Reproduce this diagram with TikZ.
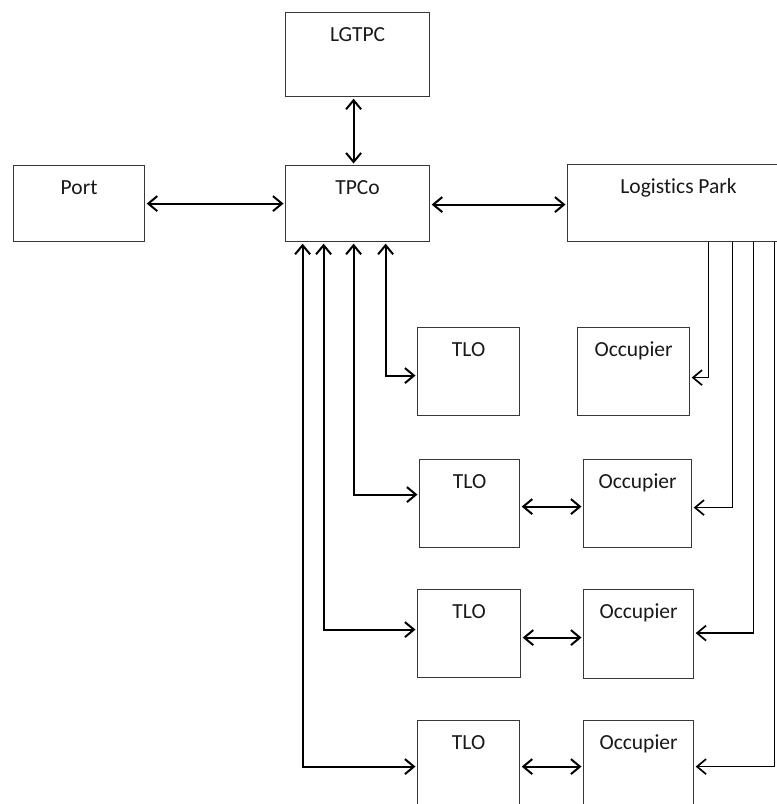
\documentclass[tikz,border=0pt]{standalone}
\usepackage{fontspec}
\setmainfont[Ligatures=CommonOff]{Carlito}
\usetikzlibrary{arrows.meta,calc}
\begin{document}
\begin{tikzpicture}[x=1pt,y=-1pt,
  box/.style={draw=black!78, line width=1.2pt, anchor=north west, inner sep=0pt, fill=white},
  lbl/.style={anchor=base, yshift=-29pt, inner sep=0pt, font=\fontsize{21.5}{26}\selectfont, text=black!90},
  arr/.style={{Straight Barb[length=9pt,width=15pt]}-{Straight Barb[length=9pt,width=15pt]}, line width=2pt, shorten <=1.5pt, shorten >=1.5pt},
  one/.style={-{Straight Barb[length=9pt,width=15pt]}, line width=1.7pt, shorten >=1.5pt}]
\useasboundingbox (0,0) rectangle (777,804);
% boxes
\node[box, minimum width=144pt, minimum height=84pt, label={[lbl]north:LGTPC}] (lgtpc) at (285,12) {};
\node[box, minimum width=144pt, minimum height=76pt, label={[lbl]north:TPCo}] (tpco) at (285,165) {};
\node[box, minimum width=131pt, minimum height=76pt, label={[lbl]north:Port}] (port) at (13,165) {};
\node[box, minimum width=222pt, minimum height=77pt, label={[lbl]north:Logistics Park}] (lp) at (567,164) {};
\node[box, minimum width=102pt, minimum height=88pt, label={[lbl]north:TLO}] (tlo1) at (417,327) {};
\node[box, minimum width=112pt, minimum height=88pt, label={[lbl]north:Occupier}] (occ1) at (577,327) {};
\node[box, minimum width=100pt, minimum height=88pt, label={[lbl]north:TLO}] (tlo2) at (419,459) {};
\node[box, minimum width=108pt, minimum height=88pt, label={[lbl]north:Occupier}] (occ2) at (583,459) {};
\node[box, minimum width=103pt, minimum height=88pt, label={[lbl]north:TLO}] (tlo3) at (417,589) {};
\node[box, minimum width=110pt, minimum height=89pt, label={[lbl]north:Occupier}] (occ3) at (583,589) {};
\node[box, minimum width=102pt, minimum height=90pt, label={[lbl]north:TLO}] (tlo4) at (417,720) {};
\node[box, minimum width=110pt, minimum height=90pt, label={[lbl]north:Occupier}] (occ4) at (583,720) {};
% top connectors
\draw[arr] ([xshift=-4pt]lgtpc.south) -- ([xshift=-4pt]tpco.north);
\draw[arr] (port.east) -- (port.east -| tpco.west);
\draw[arr] ([yshift=-1pt]tpco.east) -- ([yshift=-1pt]tpco.east -| lp.west);
% TPCo to TLOs
\draw[arr] ([xshift=28pt]tpco.south) |- ([yshift=-4pt]tlo1.west);
\draw[arr] ([xshift=-4pt]tpco.south) |- ([yshift=9pt]tlo2.west);
\draw[arr] ([xshift=-34pt]tpco.south) |- ([yshift=4pt]tlo3.west);
\draw[arr] ([xshift=-55pt]tpco.south) |- ([yshift=-1pt]tlo4.west);
% Logistics Park to Occupiers
\draw[one] ([xshift=30pt]lp.south) |- ([yshift=-6pt]occ1.east);
\draw[one] ([xshift=54pt]lp.south) |- ([yshift=-4pt]occ2.east);
\draw[one] ([xshift=75pt]lp.south) |- ([yshift=1pt]occ3.east);
\draw[one] ([xshift=96pt]lp.south) |- ([yshift=-1pt]occ4.east);
% TLO to Occupier
\draw[arr] ([yshift=-3pt]tlo2.east) -- ([yshift=-3pt]tlo2.east -| occ2.west);
\draw[arr] ([yshift=-4pt]tlo3.east) -- ([yshift=-4pt]tlo3.east -| occ3.west);
\draw[arr] ([yshift=-1pt]tlo4.east) -- ([yshift=-1pt]tlo4.east -| occ4.west);
\end{tikzpicture}
\end{document}
